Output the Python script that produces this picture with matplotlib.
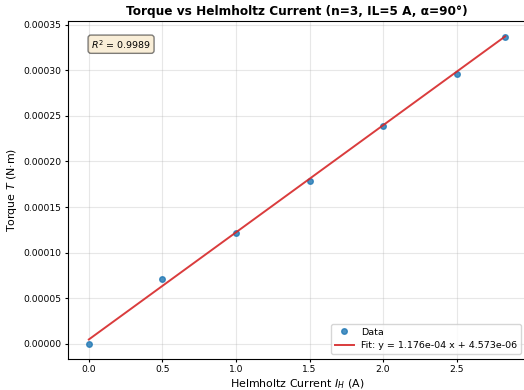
import matplotlib
matplotlib.use('Agg')
import matplotlib.pyplot as plt
import numpy as np

current = np.array([0.0, 0.5, 1.0, 1.5, 2.0, 2.5, 2.83])
torque = np.array([0.0, 7.12e-5, 1.215e-4, 1.785e-4, 2.395e-4, 2.965e-4, 3.37e-4])

slope = 1.176e-04
intercept = 4.573e-06
r2 = 0.9989

fig = plt.figure(figsize=(5.24, 3.9), dpi=100)
ax = fig.add_axes([68 / 524, 31 / 390, 458 / 524, 338 / 390])
ax.plot(current, torque, 'o', color='#1f77b4', alpha=0.8, markersize=4, label='Data')
xfit = np.linspace(current.min(), current.max(), 100)
ax.plot(xfit, slope * xfit + intercept, '-', color='#d62728', alpha=0.9, linewidth=1.4,
        label='Fit: y = %.3e x + %.3e' % (slope, intercept))
ax.set_xlabel('Helmholtz Current $I_H$ (A)', fontsize=7.9, labelpad=2)
ax.set_ylabel('Torque $T$ (N·m)', fontsize=7.9, labelpad=3)
ax.set_title('Torque vs Helmholtz Current (n=3, IL=5 A, α=90°)', fontsize=8.7,
             fontweight='bold', pad=4)
ax.tick_params(labelsize=6.6, length=2.5, pad=2)
ax.yaxis.set_major_formatter(matplotlib.ticker.FormatStrFormatter('%.5f'))
ax.grid(True, alpha=0.3)
ax.legend(fontsize=6.8, loc='lower right')
ax.text(0.05, 0.95, '$R^2$ = %.4f' % r2, transform=ax.transAxes, fontsize=6.8,
        va='top', bbox=dict(boxstyle='round', facecolor='wheat', alpha=0.5))
plt.savefig('out.png', dpi=100)
